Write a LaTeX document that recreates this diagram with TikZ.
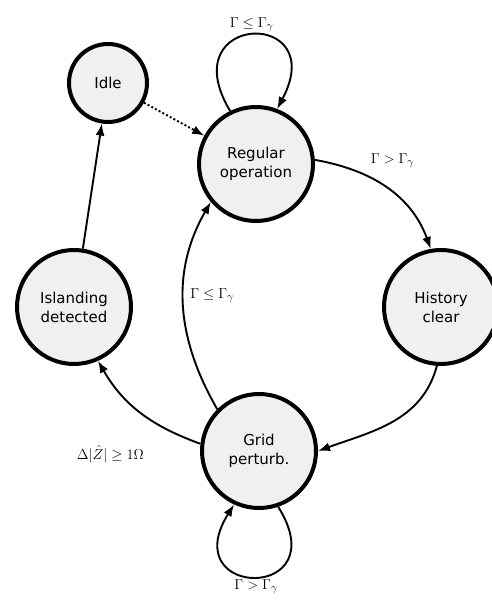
\documentclass[tikz,border=0pt]{standalone}
\usepackage{fontspec}
\setsansfont{DejaVu Sans}
\usepackage{amsmath,amssymb}
\usepackage{xcolor}
\usepackage{tikz}
\usetikzlibrary{arrows.meta}
\definecolor{statefill}{RGB}{240,240,240}

\begin{document}
\begin{tikzpicture}[
    x=1pt, y=1pt,
    >={Latex[length=12pt,width=9pt]},
    state/.style={
        circle,
        draw=black,
        fill=statefill,
        line width=4pt,
        minimum size=114pt,
        inner sep=0pt,
        align=center,
        font=\sffamily\fontsize{15}{19}\selectfont
    },
    smallstate/.style={
        state,
        minimum size=78pt
    },
    trans/.style={
        ->,
        line width=1.9pt,
        draw=black
    },
    idletrans/.style={
        trans,
        dash pattern=on 2pt off 2.2pt
    },
    condlabel/.style={
        font=\fontsize{15}{18}\selectfont,
        inner sep=2pt
    }
]
\useasboundingbox (0,0) rectangle (492,605);

% states
\node[state] (regular) at (256,441) {Regular\\operation};
\node[smallstate] (idle) at (108,522) {Idle};
\node[state] (islanding) at (74,298) {Islanding\\detected};
\node[state] (history) at (441,298) {History\\clear};
\node[state] (grid) at (259,154) {Grid\\perturb.};

% transitions
\draw[idletrans] (idle) -- (regular);
\draw[trans] (islanding) -- (idle);

\draw[trans] (regular.116) .. controls +(121:115) and +(62:115) .. node[condlabel, above] (lblregloop) {$\Gamma \leq \Gamma_\gamma$} (regular.69);

\draw[trans] (regular.4) to[out=-10, in=110] node[condlabel, pos=0.35, above right, yshift=6pt] (lblreghist) {$\Gamma > \Gamma_\gamma$} (history.100);

\draw[trans] (history.-94) to[out=-105, in=20] (grid.0);

\draw[trans] (grid.173) to[out=160, in=-60] node[condlabel, pos=0.3, below left, xshift=-15pt, yshift=-16pt] (lblgridisl) {$\Delta|\hat{Z}| \geq 1\Omega$} (islanding.-66);

\draw[trans] (grid.135) to[out=120, in=-120] node[condlabel, pos=0.55, right, xshift=4pt] (lblgridreg) {$\Gamma \leq \Gamma_\gamma$} (regular.220);

\draw[trans] (grid.-71) .. controls +(-58:112) and +(-122:112) .. node[condlabel, below] (lblgridloop) {$\Gamma > \Gamma_\gamma$} (grid.-115);

\end{tikzpicture}
\end{document}
